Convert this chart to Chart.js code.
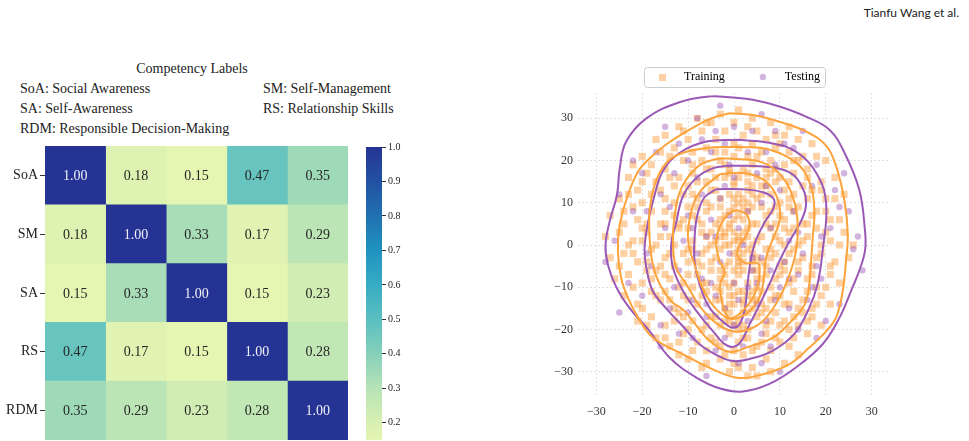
<!DOCTYPE html>
<html lang="en">
<head>
  <meta charset="UTF-8" />
  <title>Competency Correlations and Embedding</title>
  <script src="https://cdn.jsdelivr.net/npm/chart.js"></script>
  <style>
    body {
      margin: 0;
      width: 969px;
      height: 441px;
      overflow: hidden;
      position: relative;
      background: #fff;
      font-family: "Liberation Serif", serif;
      color: #222;
    }

    #author {
      position: absolute;
      right: 10px;
      top: 5px;
      font-family: Lato, "Open Sans", sans-serif;
      font-size: 12px;
      line-height: 16px;
      color: #222;
    }

    .lbl {
      position: absolute;
      font-size: 14px;
      line-height: 18px;
      white-space: nowrap;
    }

    canvas {
      position: absolute;
    }
  </style>
</head>
<body>

  <div id="author">Tianfu Wang et al.</div>

  <div class="lbl" style="left:0; width:384px; top:60px; text-align:center;">Competency Labels</div>
  <div class="lbl" style="left:20px; top:80px;">SoA: Social Awareness</div>
  <div class="lbl" style="left:263px; top:80px;">SM: Self-Management</div>
  <div class="lbl" style="left:20px; top:100px;">SA: Self-Awareness</div>
  <div class="lbl" style="left:263px; top:100px;">RS: Relationship Skills</div>
  <div class="lbl" style="left:20px; top:120px;">RDM: Responsible Decision-Making</div>

  <canvas id="heatmap" width="348" height="330" style="left:0; top:132px;"></canvas>
  <canvas id="colorbar" width="40" height="318" style="left:366px; top:135px;"></canvas>
  <canvas id="scatter" width="400" height="380" style="left:520px; top:61px;"></canvas>

  <script>
    // heatmap data
    const competencies = ['SoA', 'SM', 'SA', 'RS', 'RDM'];
    const corrMatrix = [
      [1.00, 0.18, 0.15, 0.47, 0.35],
      [0.18, 1.00, 0.33, 0.17, 0.29],
      [0.15, 0.33, 1.00, 0.15, 0.23],
      [0.47, 0.17, 0.15, 1.00, 0.28],
      [0.35, 0.29, 0.23, 0.28, 1.00]
    ];
    const colorbarTicks = [0.2, 0.3, 0.4, 0.5, 0.6, 0.7, 0.8, 0.9, 1.0];
    const scatterTicks = [-30, -20, -10, 0, 10, 20, 30];

    // scatter points
    const trainingPoints = [
      [-8,30],[-3,31],[1,32],[4,30],[8,29],[-5,29],[-12,28],[12,28],[0,29],
      [-15,26],[-11,27],[-7,27],[-2,27],[2,26],[5,27],[9,26],[14,25],[-17,25],[-4,25],[7,25],[11,26],[17,24],
      [-20,21],[-16,22],[-13,23],[-9,22],[-6,23],[-2,22],[1,23],[3,21],[6,22],[9,23],[12,22],[15,21],[18,21],[-18,19],[-11,20],[-7,20],[-3,20],[0,21],[4,19],[8,20],[11,19],[14,20],[20,20],[-22,19],
      [-23,16],[-19,17],[-15,18],[-12,16],[-9,17],[-6,18],[-4,16],[-1,17],[2,18],[5,16],[7,18],[10,16],[13,17],[16,16],[19,15],[22,16],[-17,15],[-8,15],[0,15],[3,15],[6,14],[12,15],[-13,14],[-2,19],[9,18],
      [-25,11],[-21,13],[-18,12],[-15,11],[-11,12],[-8,11],[-5,13],[-3,11],[-1,12],[1,10],[3,13],[5,11],[8,12],[10,10],[13,12],[16,11],[19,13],[22,11],[24,12],[-20,10],[-13,10],[-6,10],[0,14],[4,12],[7,14],[11,13],[15,14],[-10,14],[-23,12],
      [-27,7],[-24,8],[-21,6],[-18,8],[-16,5],[-13,7],[-10,9],[-8,6],[-6,8],[-4,5],[-2,7],[0,9],[2,6],[3,8],[5,5],[7,7],[9,9],[11,6],[13,8],[15,5],[17,7],[20,8],[23,6],[-12,5],[-1,5],[6,9],[10,7],[14,9],[-19,5],
      [-28,2],[-25,3],[-22,1],[-19,3],[-17,0],[-14,2],[-12,4],[-9,1],[-7,3],[-5,0],[-3,2],[-1,4],[1,1],[2,3],[4,0],[6,2],[8,4],[10,1],[12,3],[14,0],[16,2],[18,4],[21,1],[24,3],[26,0],[-10,4],[-2,0],[3,4],[9,2],[13,4],
      [-27,-3],[-24,-2],[-21,-4],[-18,-1],[-15,-3],[-13,-5],[-11,-2],[-8,-4],[-6,-1],[-4,-3],[-2,-5],[0,-2],[2,-4],[3,-1],[5,-3],[7,-5],[9,-2],[11,-4],[13,-1],[15,-3],[17,-5],[19,-2],[22,-4],[25,-3],[-16,-5],[-9,-1],[1,-1],[6,-4],[12,-2],
      [-26,-8],[-23,-7],[-20,-9],[-17,-6],[-14,-8],[-12,-10],[-10,-7],[-7,-9],[-5,-6],[-3,-8],[-1,-10],[1,-7],[3,-9],[4,-6],[6,-8],[8,-10],[10,-7],[12,-9],[14,-6],[16,-8],[18,-10],[21,-7],[23,-9],[-9,-10],[0,-6],[5,-10],[11,-6],[-19,-6],
      [-24,-12],[-21,-14],[-18,-11],[-16,-13],[-13,-15],[-11,-12],[-8,-14],[-6,-11],[-4,-13],[-2,-15],[0,-12],[2,-14],[4,-11],[5,-13],[7,-15],[9,-12],[11,-14],[13,-11],[15,-13],[17,-15],[19,-12],[21,-14],[-15,-11],[-1,-14],[3,-12],[8,-13],[14,-15],
      [-21,-18],[-18,-17],[-15,-19],[-12,-16],[-9,-18],[-7,-20],[-5,-17],[-3,-19],[-1,-16],[1,-18],[3,-20],[5,-17],[7,-19],[9,-16],[11,-18],[14,-19],[17,-17],[19,-19],[-10,-20],[0,-19],[6,-16],[12,-20],[16,-18],[2,-16],
      [-17,-22],[-14,-24],[-11,-21],[-8,-23],[-5,-22],[-3,-24],[-1,-21],[1,-23],[3,-22],[5,-24],[7,-21],[10,-23],[13,-22],[16,-21],[0,-25],[-6,-25],[8,-25],
      [-10,-27],[-6,-28],[-3,-27],[0,-28],[2,-26],[4,-29],[7,-27],[11,-28],[-1,-30],[5,-31],
      [-1,0],[1,-3],[-3,-1],[2,1],[0,3],[-2,-7],[1,-5],[-1,8],[3,10],[-4,-10],[2,-11],[0,-9],[-3,6],[4,-2],[-2,2],[1,12],[-1,-12],[3,-16],[5,-8],[-5,-4],
      [-6,29],[3,28],[-10,25],[0,24],[4,24],[10,24],[-14,21],[-4,22],[5,21],[13,20],[-9,19],[-1,18],[3,17],[8,17],[16,18],[-20,15],[-14,16],[-6,15],[1,16],[9,15],[17,13],
      [-16,13],[-9,12],[-4,13],[2,11],[6,12],[12,11],[20,11],[-22,9],[-15,8],[-9,7],[-5,9],[1,7],[4,9],[8,8],[12,9],[18,8],[21,6],[-24,5],[-20,4],[-15,5],[-11,6],
      [-7,5],[-3,4],[0,6],[4,5],[7,5],[11,4],[16,5],[20,3],[-23,0],[-20,1],[-16,2],[-13,0],[-10,-1],[-6,2],[-4,1],[0,1],[5,1],[7,-1],[11,0],[15,1],[19,0],[23,0],
      [-25,-5],[-22,-2],[-19,-4],[-14,-2],[-10,-4],[-7,-2],[-3,-6],[1,-4],[4,-4],[8,-3],[10,-5],[14,-4],[18,-3],[21,-5],[-22,-10],[-18,-8],[-15,-7],[-11,-9],[-8,-7],
      [-6,-9],[-2,-9],[2,-6],[7,-7],[9,-8],[13,-8],[17,-7],[20,-10],[-20,-15],[-17,-12],[-14,-13],[-10,-13],[-7,-12],[-3,-11],[1,-11],[6,-11],[10,-12],[12,-14],[16,-11],
      [18,-14],[-19,-19],[-13,-18],[-11,-17],[-6,-19],[-2,-18],[2,-19],[4,-15],[8,-18],[10,-19],[13,-17],[15,-16],[-15,-22],[-12,-23],[-9,-25],[-4,-23],[-2,-26],[2,-22],
      [4,-25],[6,-23],[9,-22],[12,-24],[-7,-29],[1,-29],[3,-31],[8,-30],[-12,-26],[14,-26],
      [-2,3],[1,2],[3,2],[-1,-4],[2,-2],[-3,-13],[0,-14],[2,-13],[4,-13],[-1,-18],[1,-20],[-3,9],[2,9],[0,11],[-2,16],[4,14],[-5,3],[5,-6],[-4,-17],[6,-14],[-5,18],[7,16],
      [-7,-5],[8,-1],[-8,9],[9,5]
    ];
    const testingPoints = [
      [-8,30],[0,28],[-4,27],[4,27],[9,27],[-12,24],[-17,22],[13,23],[18,19],[-20,17],[22,13],[-19,8],[23,9],[27,2],[-26,1],[26,-1],
      [-23,-9],[19,-8],[18,-5],[20,-18],[14,-20],[-20,-12],[-12,-21],[-9,-22],[-4,-25],[1,-28],[6,-28],[8,-24],[-2,-22],[3,-18],
      [-6,-17],[5,-14],[-9,-13],[10,-10],[-12,-6],[0,-9],[-3,-4],[6,-3],[2,0],[-6,2],[8,4],[-10,7],[3,8],[-3,11],[10,13],[-8,16],
      [5,17],[-1,19],[13,8],[-15,4],[15,-2],[-14,-15],[12,-15],[-5,6],[6,10],[-7,-8],[1,-13],[9,19],[-10,20],[17,14],[-16,12],
      [11,-4],[-11,1],[4,-6],[-2,14],[1,4],[-4,-12],[7,-18],[16,-13],[-18,-5],[21,4],[-22,8],[-5,22],[7,22],[0,-19],[-13,17],
      [14,3],[-7,12],[2,-24],[-16,-19],[-1,-2],[3,-10],[-8,-2],[12,-8],[-4,2],[6,-21],[-19,-2],[19,2],[-2,24],[11,24],[-14,9],
      [8,-6],[-6,-14],[17,-10],[0,16],
      [-3,33],[6,31],[-15,28],[15,27],[-22,20],[24,17],[-25,12],[25,8],[-28,-4],[28,-6],[-25,-16],[23,-14],[-16,-24],[10,-30],[-6,-31],
      [-10,-16],[9,-13],[-5,-9],[4,-3],[-1,7],[7,14],[-9,4],[12,1],[-13,-10],[14,-7],[3,22],[-7,25],[18,-22],[-2,-15],[5,-9]
    ];

    // density contour levels
    const trainingContours = [
      [[-1,31.2],[4.1,30.8],[9.9,29.2],[15.7,26.9],[20.1,23.5],[22.3,18.5],[24.1,10.3],[24.8,2.4],[24.4,-3.8],[23.7,-10.9],[22.3,-17],[20.1,-20.4],[16.4,-24.3],[12.1,-28.2],[6.3,-30.6],[1.2,-31.5],[-3.9,-29.8],[-10.4,-26.3],[-17.7,-21.9],[-20.9,-17.2],[-23.1,-12.5],[-24.6,-7.8],[-25.3,-1.5],[-24.9,4.8],[-23.1,11.9],[-20.9,17.4],[-18.4,20.5],[-14.8,23.8],[-9.7,27.3],[-5,30],[-1,31.2]],
      [[1.2,23.2],[7,22.8],[13.5,19.5],[16.4,15],[17.5,8.7],[17.2,2.4],[16.8,-3.8],[16.4,-9.3],[15.4,-14.1],[12.1,-18.5],[8.4,-22],[3.4,-24],[-1,-25.3],[-5.3,-22.7],[-7.9,-19.5],[-10.8,-15.6],[-13.7,-13.3],[-16.2,-9.3],[-17.7,-4.6],[-18.4,1.7],[-18.4,7.9],[-17.3,14.2],[-15.1,19],[-12,21.5],[-6,23],[1.2,23.2]],
      [[-1,20.5],[6.3,19.5],[10.6,16],[13.2,10],[13.9,4],[13.5,-1.5],[12.1,-7],[9.9,-12.5],[7,-17.2],[4.1,-19.6],[0.1,-20.5],[-3.5,-18.8],[-7.1,-15],[-10.4,-9.3],[-12.6,-5.4],[-13.3,0.1],[-13,6.4],[-11.5,13.4],[-8,18.5],[-4,20.3],[-1,20.5]],
      [[-3,16.8],[2.5,17],[7,15],[9.5,11],[10,6],[8.5,1.5],[7,-3],[6.5,-8],[5.5,-12.5],[3,-16],[-0.5,-17.5],[-3.5,-15.6],[-6.5,-11],[-8.5,-5],[-10,1],[-9.5,7],[-7.5,12.5],[-3,16.8]],
      [[-3.2,-3.8],[-3.9,0.5],[-3,4.5],[-1,7.5],[1.5,8],[3.3,6],[2.8,2.5],[1.2,0],[0.8,-2.5],[2.5,-4.3],[4.8,-4.2],[5.6,-5.4],[4.8,-10.9],[1.9,-15.6],[-1,-17.2],[-2.5,-14],[-3,-9],[-2,-6.5],[-3.2,-3.8]]
    ];
    const testingContours = [
      [[-1,35],[4.1,34.4],[9.9,32.8],[15.7,30.4],[20.8,27.3],[24.1,21.8],[27.3,13.1],[28.5,4],[28.6,-1],[27.5,-5.5],[25.5,-10.9],[23,-17.2],[19.3,-23.5],[13.5,-29],[7.7,-32.9],[1.9,-34.7],[-3,-34],[-8.2,-31.4],[-14,-26.7],[-18.4,-20.4],[-22.8,-14.9],[-25.6,-10.1],[-27.5,-4.6],[-28,0],[-27.1,5.6],[-25.5,11.9],[-24.9,18.2],[-23.5,24.5],[-19.1,30],[-11.9,33.8],[-5,35.2],[-1,35]],
      [[1.2,24.9],[7.7,24.2],[13.5,22.1],[18.2,16.6],[20.1,9.5],[19.3,-1.5],[18.2,-9.3],[16.4,-14.9],[13.2,-21],[8.5,-25],[3.4,-27],[0,-27.5],[-3,-26.5],[-7.5,-23.5],[-11.1,-19.3],[-14.8,-15],[-17.7,-10.9],[-19.1,-5.4],[-19.5,-1],[-18.8,5],[-17.5,11],[-15.5,17.5],[-11.9,21.8],[-6,24.5],[1.2,24.9]],
      [[-1,18.8],[6.3,18.6],[12.1,17.2],[15,13.4],[15.7,9.5],[14.6,5.6],[12.1,0.9],[9.9,-3.8],[7.7,-9.3],[5.6,-14.1],[3.4,-18.8],[1,-23.5],[-1.5,-23.8],[-4.6,-20.4],[-8.2,-15.6],[-11.1,-10.9],[-13.3,-5.4],[-13.7,-0.2],[-12.6,5.3],[-11.1,11.6],[-8.2,15.9],[-4.5,18.2],[-1,18.8]],
      [[-3.9,13.2],[1.9,13.2],[6.3,12.5],[8.6,11],[8.6,8.7],[6.8,5.6],[4.8,1.2],[3.7,-3.3],[3,-8.8],[2.4,-14.9],[1.2,-18.8],[-0.3,-19.6],[-1.7,-18.8],[-5.3,-14.9],[-7.5,-9.3],[-8.6,-3.8],[-8.6,1.5],[-8,7],[-6.5,11.2],[-3.9,13.2]]
    ];

    const SERIF = '"Liberation Serif", "Times New Roman", serif';
    Chart.defaults.font.family = SERIF;
    Chart.defaults.color = '#222';

    // YlGnBu, squeezed the way the colorbar shows it
    const ylgnbu = ['#ffffd9', '#edf8b1', '#c7e9b4', '#7fcdbb', '#41b6c4', '#1d91c0', '#225ea8', '#253494', '#081d58'];
    function hexToRgb(h) {
      return [parseInt(h.slice(1, 3), 16), parseInt(h.slice(3, 5), 16), parseInt(h.slice(5, 7), 16)];
    }
    function cmap(v) {
      let p = 0.15 + (v - 0.15) * 0.853;
      p = Math.max(0, Math.min(1, p)) * (ylgnbu.length - 1);
      const i = Math.min(Math.floor(p), ylgnbu.length - 2);
      const t = p - i;
      const a = hexToRgb(ylgnbu[i]), b = hexToRgb(ylgnbu[i + 1]);
      const c = a.map((x, k) => Math.round(x + (b[k] - x) * t));
      return 'rgb(' + c.join(',') + ')';
    }

    // ---------- heatmap ----------
    const cellLabels = {
      id: 'cellLabels',
      afterDatasetsDraw(chart) {
        const ctx = chart.ctx;
        ctx.save();
        ctx.font = '14px ' + SERIF;
        ctx.textAlign = 'center';
        ctx.textBaseline = 'middle';
        chart.data.datasets.forEach((ds, j) => {
          chart.getDatasetMeta(j).data.forEach((bar, i) => {
            const v = corrMatrix[i][j];
            ctx.fillStyle = v > 0.6 ? '#f0f0f5' : '#262626';
            ctx.fillText(v.toFixed(2), (bar.x + bar.base) / 2, bar.y + 1);
          });
        });
        ctx.restore();
      }
    };

    new Chart(document.getElementById('heatmap'), {
      type: 'bar',
      data: {
        labels: competencies,
        datasets: competencies.map((name, j) => ({
          label: name,
          data: competencies.map(() => 1),
          backgroundColor: corrMatrix.map(row => cmap(row[j])),
          borderWidth: 0,
          barPercentage: 1,
          categoryPercentage: 1
        }))
      },
      options: {
        indexAxis: 'y',
        responsive: false,
        animation: false,
        layout: { padding: { top: 14, bottom: 22, left: 0, right: 0 } },
        plugins: { legend: { display: false }, tooltip: { enabled: false } },
        scales: {
          x: { stacked: true, display: false, min: 0, max: 5 },
          y: {
            stacked: true,
            grid: { display: true, drawOnChartArea: false, offset: false, tickLength: 5, color: '#333' },
            border: { display: false },
            ticks: { font: { size: 14 }, color: '#222', padding: 2 },
            afterFit: s => { s.width = 45; }
          }
        }
      },
      plugins: [cellLabels]
    });

    // ---------- colorbar ----------
    new Chart(document.getElementById('colorbar'), {
      type: 'bar',
      data: {
        labels: [''],
        datasets: [{
          data: [[0.15, 1.0]],
          backgroundColor: c => {
            const ca = c.chart.chartArea;
            if (!ca) return '#ccc';
            const g = c.chart.ctx.createLinearGradient(0, ca.bottom, 0, ca.top);
            const stops = [0.15].concat(colorbarTicks);
            stops.forEach(v => g.addColorStop((v - 0.15) / 0.85, cmap(v)));
            return g;
          },
          borderWidth: 0,
          borderSkipped: false,
          barPercentage: 1,
          categoryPercentage: 1
        }]
      },
      options: {
        responsive: false,
        animation: false,
        layout: { padding: { top: 12, bottom: 13 } },
        plugins: { legend: { display: false }, tooltip: { enabled: false } },
        scales: {
          x: { display: false },
          y: {
            position: 'right',
            min: 0.15,
            max: 1.0,
            afterBuildTicks: s => { s.ticks = colorbarTicks.map(v => ({ value: v })); },
            ticks: { callback: v => Number(v).toFixed(1), font: { size: 10 }, color: '#222', padding: 2 },
            grid: { drawOnChartArea: false, tickLength: 4, color: '#333' },
            border: { display: false },
            afterFit: s => { s.width = 24; }
          }
        }
      }
    });

    // ---------- scatter with density contours ----------
    function markerImage(style, color) {
      const c = document.createElement('canvas');
      c.width = 46;
      c.height = 12;
      const g = c.getContext('2d');
      g.fillStyle = color;
      if (style === 'rect') {
        g.fillRect(27, 3, 7, 7);
      } else {
        g.beginPath();
        g.arc(30, 6, 3.2, 0, Math.PI * 2);
        g.fill();
      }
      return c;
    }

    const TRAIN_FILL = 'rgba(251,153,53,0.45)';
    const TEST_FILL = 'rgba(142,68,173,0.4)';
    const TRAIN_LINE = '#fca33c';
    const TEST_LINE = '#9b59b6';

    const legendFrame = {
      id: 'legendFrame',
      afterLayout(chart) {
        // the visible legend content is lopsided, nudge it back to the centre
        chart.legend.left -= 8;
        chart.legend.right -= 8;
      },
      afterDraw(chart) {
        const boxes = chart.legend.legendHitBoxes;
        if (!boxes || !boxes.length) return;
        const first = boxes[0], last = boxes[boxes.length - 1];
        const cy = first.top + first.height / 2;
        const left = first.left + 12, right = last.left + last.width + 5;
        const ctx = chart.ctx;
        ctx.save();
        ctx.strokeStyle = '#cccccc';
        ctx.lineWidth = 1;
        ctx.beginPath();
        ctx.roundRect(Math.round(left) + 0.5, Math.round(cy - 10) + 0.5, Math.round(right - left), 20, 3);
        ctx.stroke();
        ctx.restore();
      }
    };

    const toXY = pts => pts.map(p => ({ x: p[0], y: p[1] }));
    const contourSets = (list, color) => list.map(pts => ({
      label: 'contour',
      data: toXY(pts),
      showLine: true,
      borderColor: color,
      borderWidth: 2,
      pointRadius: 0,
      tension: 0.4,
      fill: false,
      order: 1
    }));

    new Chart(document.getElementById('scatter'), {
      type: 'scatter',
      data: {
        datasets: [
          {
            label: 'Training',
            data: toXY(trainingPoints),
            pointStyle: 'rect',
            pointRadius: 5,
            backgroundColor: TRAIN_FILL,
            borderWidth: 0,
            order: 10
          },
          {
            label: 'Testing',
            data: toXY(testingPoints),
            pointStyle: 'circle',
            pointRadius: 3.2,
            backgroundColor: TEST_FILL,
            borderWidth: 0,
            order: 9
          }
        ].concat(contourSets(trainingContours, TRAIN_LINE), contourSets(testingContours, TEST_LINE))
      },
      options: {
        responsive: false,
        animation: false,
        layout: { padding: { top: 2, right: 30, left: 0, bottom: 0 } },
        plugins: {
          tooltip: { enabled: false },
          legend: {
            fullSize: false,
            labels: {
              usePointStyle: true,
              pointStyleWidth: 46,
              padding: 8,
              font: { size: 12 },
              color: '#222',
              generateLabels: () => [
                { text: 'Training', pointStyle: markerImage('rect', TRAIN_FILL), fillStyle: TRAIN_FILL, strokeStyle: 'transparent', lineWidth: 0, hidden: false, datasetIndex: 0 },
                { text: 'Testing', pointStyle: markerImage('circle', TEST_FILL), fillStyle: TEST_FILL, strokeStyle: 'transparent', lineWidth: 0, hidden: false, datasetIndex: 1 }
              ]
            }
          }
        },
        scales: {
          x: {
            type: 'linear',
            min: -34,
            max: 34,
            afterBuildTicks: s => { s.ticks = scatterTicks.map(v => ({ value: v })); },
            ticks: { callback: v => String(v).replace('-', '\u2212'), font: { size: 12 }, color: '#333', padding: 8 },
            grid: { color: '#e2e2e2', drawTicks: false },
            border: { display: false, dash: [2, 2] },
            afterFit: s => { s.height = 44; }
          },
          y: {
            min: -36,
            max: 36,
            afterBuildTicks: s => { s.ticks = scatterTicks.map(v => ({ value: v })); },
            ticks: { callback: v => String(v).replace('-', '\u2212'), font: { size: 12 }, color: '#333', padding: 5 },
            grid: { color: '#e2e2e2', drawTicks: false },
            border: { display: false, dash: [2, 2] },
            afterFit: s => { s.width = 58; }
          }
        }
      },
      plugins: [legendFrame]
    });
  </script>

</body>
</html>
